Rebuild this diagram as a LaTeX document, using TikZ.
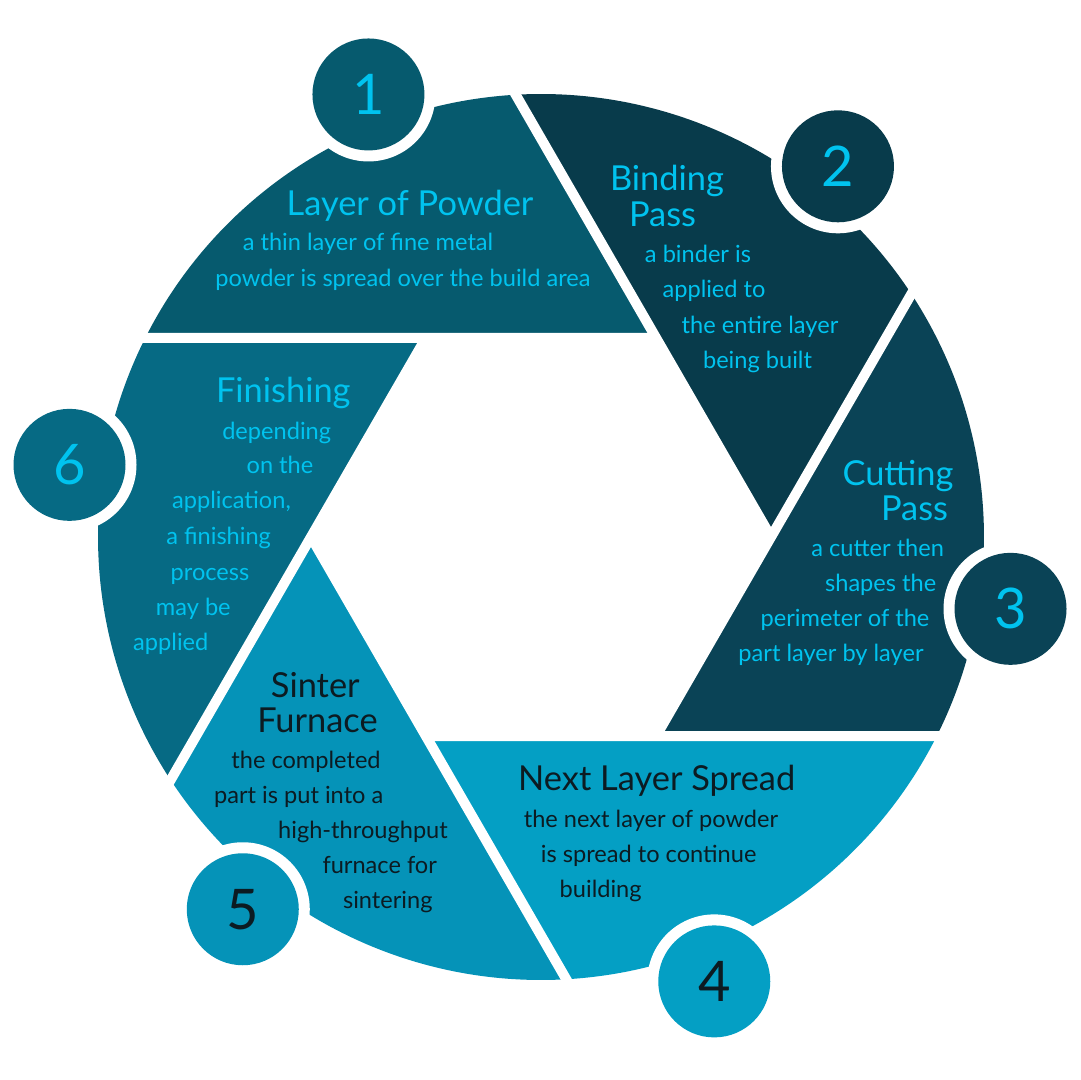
\documentclass[tikz,border=0pt]{standalone}
\usepackage{fontspec}
\setmainfont{Lato}
\usetikzlibrary{positioning,calc}
\definecolor{bladeA}{HTML}{065A6E}
\definecolor{bladeB}{HTML}{083B4B}
\definecolor{bladeC}{HTML}{0A4356}
\definecolor{bladeD}{HTML}{049FC4}
\definecolor{bladeE}{HTML}{0593B8}
\definecolor{bladeF}{HTML}{066A84}
\definecolor{lighttext}{HTML}{00C3EF}
\definecolor{darktext}{HTML}{0C1B22}
\tikzset{headtext/.style={anchor=base,inner sep=0pt,font=\fontsize{17.2}{17.2}\selectfont},
	 bodytext/.style={anchor=base,inner sep=0pt,font=\fontsize{11.8}{11.8}\selectfont},
	 numdisc/.style={circle,inner sep=0pt,minimum size=56pt,font=\fontsize{28}{28}\selectfont},
	 numring/.style={circle,fill=white,inner sep=0pt,minimum size=67pt},
	 gapline/.style={white,line width=5pt}
	 }

\begin{document}
\begin{tikzpicture}[x=0.5pt,y=0.5pt] % binder jetting cycle as aperture
	\useasboundingbox (-541,-543) rectangle (539,537);
	\coordinate (v1) at (60:230);
	\coordinate (v2) at (0:230);
	\coordinate (v3) at (-60:230);
	\coordinate (v4) at (-120:230);
	\coordinate (v5) at (-180:230);
	\coordinate (v6) at (120:230);
	\coordinate (p1) at (93.27:443);
	\coordinate (p2) at (33.27:443);
	\coordinate (p3) at (-26.73:443);
	\coordinate (p4) at (-86.73:443);
	\coordinate (p5) at (-146.73:443);
	\coordinate (p6) at (-206.73:443);
	\fill[bladeA] (v1) -- (p1) arc[start angle=93.27,end angle=153.27,radius=443] -- cycle;
	\fill[bladeB] (v2) -- (p2) arc[start angle=33.27,end angle=93.27,radius=443] -- cycle;
	\fill[bladeC] (v3) -- (p3) arc[start angle=-26.73,end angle=33.27,radius=443] -- cycle;
	\fill[bladeD] (v4) -- (p4) arc[start angle=-86.73,end angle=-26.73,radius=443] -- cycle;
	\fill[bladeE] (v5) -- (p5) arc[start angle=-146.73,end angle=-86.73,radius=443] -- cycle;
	\fill[bladeF] (v6) -- (p6) arc[start angle=-206.73,end angle=-146.73,radius=443] -- cycle;
	\draw[gapline] (v2) -- ($(v2)!1.1!(p1)$);
	\draw[gapline] (v3) -- ($(v3)!1.1!(p2)$);
	\draw[gapline] (v4) -- ($(v4)!1.1!(p3)$);
	\draw[gapline] (v5) -- ($(v5)!1.1!(p4)$);
	\draw[gapline] (v6) -- ($(v6)!1.1!(p5)$);
	\draw[gapline] (v1) -- ($(v1)!1.1!(p6)$);
	% number discs
	\node[numring] (r1) at (111.3:475) {};
	\node[numring] (r2) at (51.3:475) {};
	\node[numring] (r3) at (-8.7:475) {};
	\node[numring] (r4) at (-68.7:477) {};
	\node[numring] (r5) at (-128.7:477) {};
	\node[numring] (r6) at (171.3:477) {};
	\node[numdisc,fill=bladeA,text=lighttext] (n1) at (r1) {1};
	\node[numdisc,fill=bladeB,text=lighttext] (n2) at (r2) {2};
	\node[numdisc,fill=bladeC,text=lighttext] (n3) at (r3) {3};
	\node[numdisc,fill=bladeD,text=darktext] (n4) at (r4) {4};
	\node[numdisc,fill=bladeE,text=darktext] (n5) at (r5) {5};
	\node[numdisc,fill=bladeF,text=lighttext] (n6) at (r6) {6};
	% step 1
	\node[headtext,text=lighttext] (h1) at (-131,321) {Layer of Powder};
	\node[bodytext,text=lighttext] (a1) at (-173,286) {a thin layer of fine metal};
	\node[bodytext,text=lighttext] (a2) at (-138,250) {powder is spread over the build area};
	% step 2
	\node[headtext,text=lighttext] (h2) at (126,346) {Binding};
	\node[headtext,text=lighttext] (h2b) at (121.5,310) {Pass};
	\node[bodytext,text=lighttext] (b1) at (157,274) {a binder is};
	\node[bodytext,text=lighttext] (b2) at (173,239) {applied to};
	\node[bodytext,text=lighttext] (b3) at (219,203) {the entire layer};
	\node[bodytext,text=lighttext] (b4) at (216.5,168) {being built};
	% step 3
	\node[headtext,text=lighttext] (h3) at (357,51) {Cutting};
	\node[headtext,text=lighttext] (h3b) at (373.5,16) {Pass};
	\node[bodytext,text=lighttext] (c1) at (336.7,-20) {a cutter then};
	\node[bodytext,text=lighttext] (c2) at (339.7,-55) {shapes the};
	\node[bodytext,text=lighttext] (c3) at (304,-90) {perimeter of the};
	\node[bodytext,text=lighttext] (c4) at (290,-125) {part layer by layer};
	% step 4
	\node[headtext,text=darktext] (h4) at (115.7,-253) {Next Layer Spread};
	\node[bodytext,text=darktext] (d1) at (110,-290) {the next layer of powder};
	\node[bodytext,text=darktext] (d2) at (107.7,-325) {is spread to continue};
	\node[bodytext,text=darktext] (d3) at (59.7,-360) {building};
	% step 5
	\node[headtext,text=darktext] (h5) at (-225.7,-161) {Sinter};
	\node[headtext,text=darktext] (h5b) at (-223.5,-196) {Furnace};
	\node[bodytext,text=darktext] (e1) at (-235,-231) {the completed};
	\node[bodytext,text=darktext] (e2) at (-242.3,-266) {part is put into a};
	\node[bodytext,text=darktext] (e3) at (-178,-301) {high-throughput};
	\node[bodytext,text=darktext] (e4) at (-161.3,-336) {furnace for};
	\node[bodytext,text=darktext] (e5) at (-153.2,-371) {sintering};
	% step 6
	\node[headtext,text=lighttext] (h6) at (-257.7,134) {Finishing};
	\node[bodytext,text=lighttext] (f1) at (-264.3,97) {depending};
	\node[bodytext,text=lighttext] (f2) at (-261,63) {on the};
	\node[bodytext,text=lighttext] (f3) at (-309.5,28) {application,};
	\node[bodytext,text=lighttext] (f4) at (-322.3,-8) {a finishing};
	\node[bodytext,text=lighttext] (f5) at (-331,-44) {process};
	\node[bodytext,text=lighttext] (f6) at (-347.7,-79) {may be};
	\node[bodytext,text=lighttext] (f7) at (-370.2,-114) {applied};
\end{tikzpicture}
\end{document}
